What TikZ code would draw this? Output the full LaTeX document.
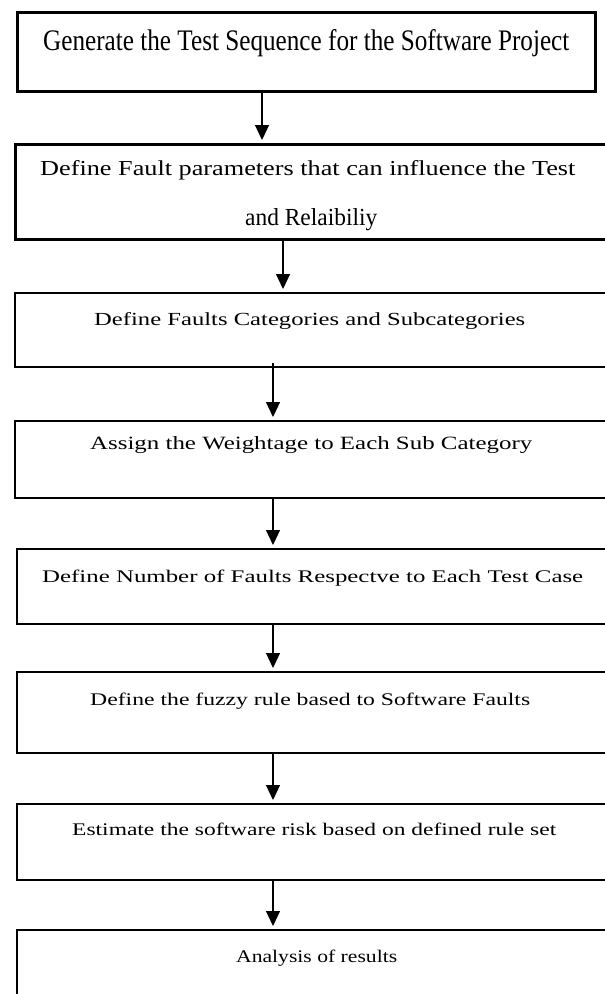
\documentclass[tikz,border=0pt]{standalone}
\usepackage{fontspec}
\setmainfont{Liberation Serif}
\usepackage{graphicx}
\usetikzlibrary{arrows.meta}
\newcommand{\fitline}[3]{\resizebox{#1pt}{#2pt}{#3}}
\begin{document}
\begin{tikzpicture}[x=1pt,y=-1pt,
  boxthick/.style={draw, line width=3pt, inner sep=0pt, outer sep=0pt, anchor=north west},
  boxthin/.style={draw, line width=2pt, inner sep=0pt, outer sep=0pt, anchor=north west},
  steptext/.style={inner sep=0pt, anchor=base west},
  flow/.style={-{Triangle[width=14pt,length=15pt]}, line width=1.2pt, shorten >=4pt}]
\useasboundingbox (0,0) rectangle (605,994);
\fill[white] (0,0) rectangle (605,994);
\clip (0,0) rectangle (605,994);
% boxes
\node[boxthick, minimum width=578pt, minimum height=79pt] (b1) at (17,12) {};
\node[boxthick, minimum width=600pt, minimum height=95pt] (b2) at (15,144) {};
\node[boxthin, minimum width=600pt, minimum height=74pt] (b3) at (15,293) {};
\node[boxthin, minimum width=600pt, minimum height=77pt] (b4) at (15,421) {};
\node[boxthin, minimum width=600pt, minimum height=75pt] (b5) at (17,549) {};
\node[boxthin, minimum width=600pt, minimum height=81pt] (b6) at (17,672) {};
\node[boxthin, minimum width=600pt, minimum height=76pt] (b7) at (17,804) {};
\node[boxthin, minimum width=600pt, minimum height=90pt] (b8) at (17,930) {};
% texts
\node[steptext] (t1) at (43,50) {\fitline{526}{21}{Generate the Test Sequence for the Software Project}};
\node[steptext] (t2a) at (40,175) {\fitline{535}{15}{Define Fault parameters that can influence the Test}};
\node[steptext] (t2b) at (245,225) {\fitline{132}{17}{and Relaibiliy}};
\node[steptext] (t3) at (94,325) {\fitline{431}{13}{Define Faults Categories and Subcategories}};
\node[steptext] (t4) at (90,449) {\fitline{442}{13}{Assign the Weightage to Each Sub Category}};
\node[steptext] (t5) at (42,582) {\fitline{541}{12.5}{Define Number of Faults Respectve to Each Test Case}};
\node[steptext] (t6) at (90,705) {\fitline{440}{12.5}{Define the fuzzy rule based to Software Faults}};
\node[steptext] (t7) at (72,835) {\fitline{484}{12.5}{Estimate the software risk based on defined rule set}};
\node[steptext] (t8) at (236,962) {\fitline{161}{12.5}{Analysis of results}};
% arrow columns
\coordinate (x1) at (262,0);
\coordinate (x2) at (283,0);
\coordinate (x3) at (273,0);
\draw[flow] (b1.south -| x1) -- (b2.north -| x1);
\draw[flow] (b2.south -| x2) -- (b3.north -| x2);
\draw[flow] ([yshift=4pt]b3.south -| x3) -- (b4.north -| x3);
\draw[flow] (b4.south -| x3) -- (b5.north -| x3);
\draw[flow] (b5.south -| x3) -- (b6.north -| x3);
\draw[flow] (b6.south -| x3) -- (b7.north -| x3);
\draw[flow] (b7.south -| x3) -- (b8.north -| x3);
\end{tikzpicture}
\end{document}
